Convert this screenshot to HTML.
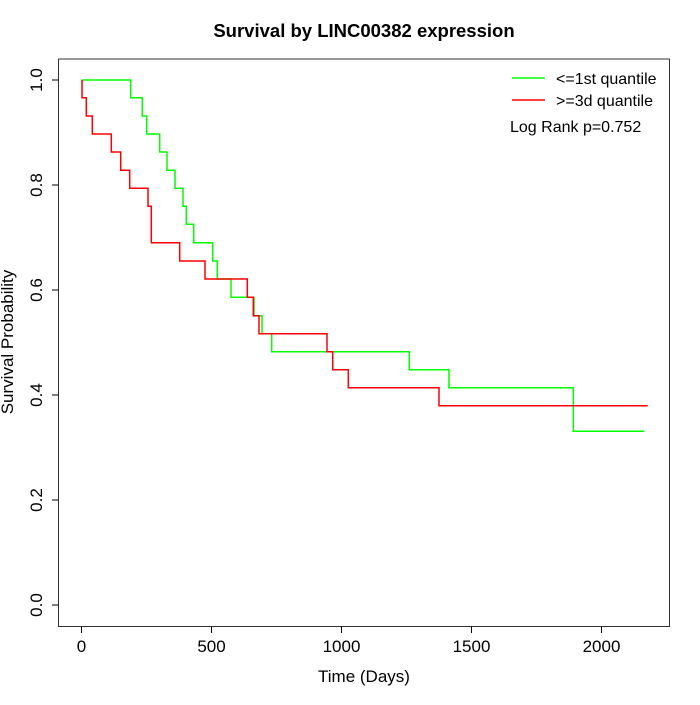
<!DOCTYPE html>
<html><head><meta charset="utf-8"><style>body{margin:0;background:#fff}</style></head><body>
<svg width="700" height="700" xmlns="http://www.w3.org/2000/svg" font-family="Liberation Sans, sans-serif">
<rect width="700" height="700" fill="#fff"/>
<text x="364" y="37" font-size="18.5" font-weight="bold" text-anchor="middle">Survival by LINC00382 expression</text>
<rect x="58.5" y="59" width="611" height="567.5" fill="none" stroke="#333" stroke-width="1"/>
<g stroke="#000" stroke-width="1">
<line x1="81.5" y1="626.5" x2="81.5" y2="633"/><line x1="211.5" y1="626.5" x2="211.5" y2="633"/><line x1="341.5" y1="626.5" x2="341.5" y2="633"/><line x1="471.5" y1="626.5" x2="471.5" y2="633"/><line x1="601.5" y1="626.5" x2="601.5" y2="633"/>
<line x1="52" y1="605" x2="58.5" y2="605"/><line x1="52" y1="500" x2="58.5" y2="500"/><line x1="52" y1="395" x2="58.5" y2="395"/><line x1="52" y1="290" x2="58.5" y2="290"/><line x1="52" y1="185" x2="58.5" y2="185"/><line x1="52" y1="80" x2="58.5" y2="80"/>
</g>
<g font-size="17" text-anchor="middle">
<text x="81.5" y="652">0</text><text x="211.5" y="652">500</text><text x="341.5" y="652">1000</text><text x="471.5" y="652">1500</text><text x="601.5" y="652">2000</text>
<text x="364" y="682">Time (Days)</text>
<text transform="translate(42,605) rotate(-90)">0.0</text>
<text transform="translate(42,500) rotate(-90)">0.2</text>
<text transform="translate(42,395) rotate(-90)">0.4</text>
<text transform="translate(42,290) rotate(-90)">0.6</text>
<text transform="translate(42,185) rotate(-90)">0.8</text>
<text transform="translate(42,80) rotate(-90)">1.0</text>
<text transform="translate(13,342) rotate(-90)">Survival Probability</text>
</g>
<polyline fill="none" stroke="#00ff00" stroke-width="1.5" points="82,80 130.7,80 130.7,97.7 142.3,97.7 142.3,116 146.7,116 146.7,134 159.7,134 159.7,152 167,152 167,170.3 175,170.3 175,188.3 183,188.3 183,206.3 186.3,206.3 186.3,224.3 193.7,224.3 193.7,242.7 212.7,242.7 212.7,261 217.3,261 217.3,279 231,279 231,297.3 254,297.3 254,315.7 262,315.7 262,333.7 271.7,333.7 271.7,351.7 409.3,351.7 409.3,369.7 449,369.7 449,387.7 573.3,387.7 573.3,431.3 644.3,431.3"/>
<polyline fill="none" stroke="#ff0000" stroke-width="1.5" points="82,80 82,97.7 86.3,97.7 86.3,116 92.3,116 92.3,134 111.3,134 111.3,152 120.7,152 120.7,170.3 129.7,170.3 129.7,188.3 148,188.3 148,206.3 151.3,206.3 151.3,242.7 179.7,242.7 179.7,261 205,261 205,279 247.3,279 247.3,297.3 253.3,297.3 253.3,315.7 259,315.7 259,333.7 327,333.7 327,351.7 332.7,351.7 332.7,369.7 348.3,369.7 348.3,387.7 439,387.7 439,405.7 647.7,405.7"/>
<line x1="512" y1="78" x2="545" y2="78" stroke="#00ff00" stroke-width="1.5"/>
<line x1="512" y1="100" x2="545" y2="100" stroke="#ff0000" stroke-width="1.5"/>
<g font-size="16">
<text x="556" y="84">&lt;=1st quantile</text>
<text x="556" y="106">&gt;=3d quantile</text>
<text x="510" y="132">Log Rank p=0.752</text>
</g>
</svg>
</body></html>
